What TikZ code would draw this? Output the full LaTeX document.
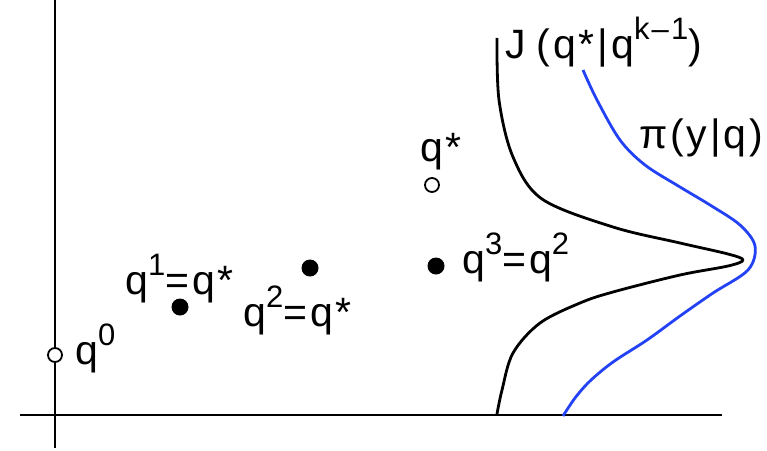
\documentclass[tikz,border=0pt]{standalone}
\usepackage{fontspec}
\setmainfont[LetterSpace=7]{Liberation Sans}
\usepackage{xcolor}
\usetikzlibrary{positioning}
\definecolor{piblue}{RGB}{35,65,245}
\newcommand{\up}[1]{\raisebox{0.45em}{\fontsize{31}{31}\selectfont #1}}

\begin{document}
\begin{tikzpicture}[
  x=1pt, y=-1pt,
  every node/.style={font=\fontsize{41}{42}\selectfont, inner sep=0pt},
  opendot/.style={draw, circle, line width=1.8pt, fill=white, minimum size=14pt},
  fulldot/.style={circle, fill=black, minimum size=17pt},
  axis/.style={line width=2.4pt},
  curve/.style={line width=2.8pt, line join=round}
]
\useasboundingbox (0,0) rectangle (767,450);
% axes
\coordinate (ytop) at (55,0);
\coordinate (ybot) at (55,448);
\coordinate (xleft) at (20,415);
\coordinate (xright) at (722,415);
\draw[axis] (ytop) -- (ybot);
\draw[axis] (xleft) -- (xright);
% chain states
\node[opendot] (q0) at (55,355) {};
\node[fulldot] (q1) at (180,307) {};
\node[fulldot] (q2) at (310,268) {};
\node[opendot] (qs) at (432,185) {};
\node[fulldot] (q3) at (436,266) {};
\node[anchor=base west] (lq0) at (75,364) {q\up{0}};
\node[anchor=base west] (lq1) at (125,294) {q\up{1}=q*};
\node[anchor=base west] (lq2) at (243,326) {q\up{2}=q*};
\node[anchor=base west] (lqs) at (420,161) {q*};
\node[anchor=base west] (lq3) at (462,273) {q\up{3}=q\up{2}};
% densities
\draw[curve] plot[smooth, tension=0.55] coordinates {
  (497,38) (499,100) (513,157) (542,199) (613,227) (680,243)
  (728,254) (743,260) (728,266) (680,275) (613,292) (580,303)
  (540,323) (513,353) (502,390) (497,414)};
\draw[curve, piblue] plot[smooth, tension=0.55] coordinates {
  (583,70) (597,100) (620,140) (645,165) (680,187) (710,205)
  (740,225) (755,246) (748,270) (713,293) (680,316) (647,340)
  (613,362) (590,381) (575,398) (563,416)};
\node[anchor=base west] (lJ) at (505,58) {J\hspace{11pt}(q*|q\up{k\textendash1})};
\node[anchor=base west] (lpi) at (639,148) {π(y|q)};
\end{tikzpicture}
\end{document}
